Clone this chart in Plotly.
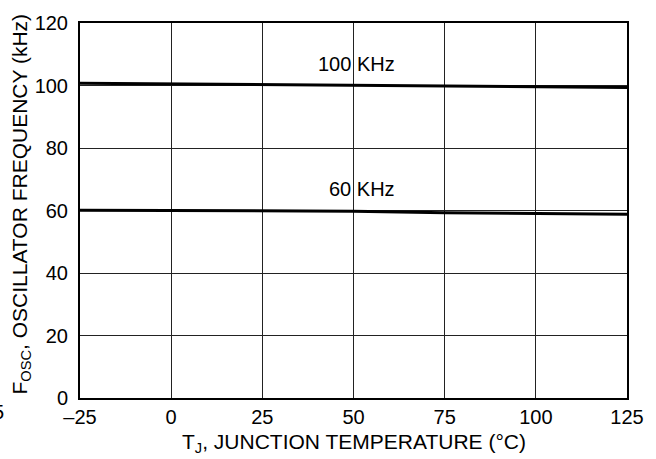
import plotly.graph_objects as go

# Junction temperature sample points (°C)
temps = [-25, 0, 25, 50, 75, 100, 125]
# Oscillator frequency (kHz) for the two settings
freq_100k = [100.7, 100.5, 100.3, 100.0, 99.8, 99.6, 99.4]
freq_60k = [60.1, 60.0, 59.9, 59.8, 59.3, 59.0, 58.8]

x_ticks = [-25, 0, 25, 50, 75, 100, 125]
x_tick_text = ["\u201325", "0", "25", "50", "75", "100", "125"]
y_ticks = [0, 20, 40, 60, 80, 100, 120]

font_family = "Liberation Sans, Arial, sans-serif"

fig = go.Figure()
for vals in (freq_100k, freq_60k):
    fig.add_trace(go.Scatter(
        x=temps, y=vals, mode="lines",
        line=dict(color="black", width=3),
        showlegend=False, hoverinfo="skip",
    ))

fig.add_annotation(x=61.8, y=107, text="100 KHz", showarrow=False,
                   xanchor="right", yanchor="middle",
                   font=dict(size=20, color="black", family=font_family))
fig.add_annotation(x=61.8, y=67, text="60 KHz", showarrow=False,
                   xanchor="right", yanchor="middle",
                   font=dict(size=20, color="black", family=font_family))

# Axis titles
fig.add_annotation(xref="paper", yref="paper", x=0.5, y=-0.12,
                   text="T<sub>J</sub>, JUNCTION TEMPERATURE (°C)",
                   showarrow=False, xanchor="center", yanchor="middle",
                   font=dict(size=21, color="black", family=font_family))
fig.add_annotation(xref="paper", yref="paper", x=-0.1095, y=0.516,
                   text="F<sub>OSC</sub>, OSCILLATOR FREQUENCY (kHz)",
                   showarrow=False, textangle=-90,
                   xanchor="center", yanchor="middle",
                   font=dict(size=21, color="black", family=font_family))
fig.add_annotation(xref="paper", yref="paper", x=-0.136, y=-0.037,
                   text="5", showarrow=False, xanchor="right",
                   yanchor="middle",
                   font=dict(size=20, color="black", family=font_family))

axis_common = dict(
    showline=True, mirror=True, linecolor="black", linewidth=2,
    showgrid=True, gridcolor="#222222", gridwidth=1.2,
    zeroline=False, ticks="",
    tickfont=dict(size=20, color="black", family=font_family),
)

fig.update_xaxes(range=[-25, 125], tickvals=x_ticks, ticktext=x_tick_text,
                 ticklabelstandoff=0, **axis_common)
fig.update_yaxes(range=[0, 120], tickvals=y_ticks,
                 ticklabelstandoff=6, **axis_common)

fig.update_layout(
    width=656, height=459,
    margin=dict(l=80, r=28, t=14, b=61, pad=0),
    paper_bgcolor="white", plot_bgcolor="white",
    font=dict(family=font_family, color="black"),
)

fig.write_html("out.html")
